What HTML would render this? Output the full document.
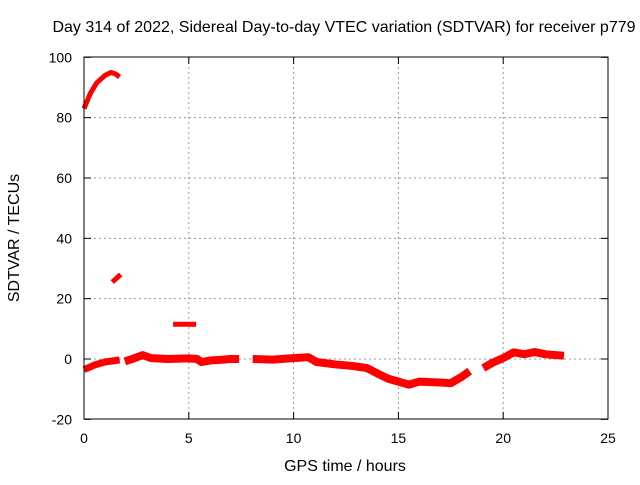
<!DOCTYPE html>
<html><head><meta charset="utf-8"><style>
body{margin:0;background:#fff}
svg text{font-family:"Liberation Sans",sans-serif;font-size:14px;fill:#000}
svg text.big{font-size:16px}
</style></head><body>
<svg id="c" width="640" height="480">
<rect width="640" height="480" fill="#fff"/>
<text class="big" x="344" y="32" text-anchor="middle">Day 314 of 2022, Sidereal Day-to-day VTEC variation (SDTVAR) for receiver p779</text>
<text class="big" x="345" y="471" text-anchor="middle">GPS time / hours</text>
<text class="big" transform="translate(19,238) rotate(-90)" text-anchor="middle">SDTVAR / TECUs</text>
<g id="grid"></g><g id="ticks"></g><g id="series"></g>
<rect x="84" y="57" width="524" height="362" fill="none" stroke="#000"/>
</svg>
<script>
const xTicks=[0,5,10,15,20,25];
const yTicks=[-20,0,20,40,60,80,100];
const segRise=[[0,83],[0.15,85.5],[0.3,88],[0.6,91.5],[1.0,94],[1.3,95],[1.5,94.5],[1.7,93.5]];
const segMid=[[1.35,25.5],[1.75,28]];
const segPlateau=[[4.25,11.5],[5.35,11.5]];
const segA=[[0,-3.5],[0.5,-2],[1,-1],[1.7,-0.3]];
const segB=[[1.95,-0.8],[2.3,0],[2.8,1.3],[3.2,0.3],[4,0],[5,0.2],[5.4,0],[5.6,-1],[6,-0.5],[6.5,-0.3],[7,0],[7.4,0]];
const segC=[[8.05,0],[9,-0.2],[10,0.3],[10.7,0.6],[11.1,-1],[12,-1.8],[12.8,-2.3],[13.5,-3],[14,-4.8],[14.5,-6.5],[15,-7.5],[15.5,-8.5],[16,-7.5],[17,-7.8],[17.5,-8],[18,-6],[18.4,-4]];
const segD=[[19.05,-3],[19.5,-1.2],[20,0.3],[20.5,2.2],[21,1.6],[21.5,2.3],[22,1.6],[22.5,1.3],[22.9,1.1]];
const X=v=>84+v*524/25, Y=v=>359-v*362/120;
const NS='http://www.w3.org/2000/svg';
const g=document.getElementById('grid'),t=document.getElementById('ticks'),s=document.getElementById('series');
function mk(tag,a,p){const e=document.createElementNS(NS,tag);for(const k in a)e.setAttribute(k,a[k]);p.appendChild(e);return e;}
xTicks.forEach(v=>{
 if(v>0&&v<25){const l=mk('line',{x1:X(v),x2:X(v),y1:57,y2:419,stroke:'#999','stroke-dasharray':'2,3'},g);
 
 }
 mk('line',{x1:X(v),x2:X(v),y1:419,y2:412,stroke:'#000'},t);mk('line',{x1:X(v),x2:X(v),y1:57,y2:64,stroke:'#000'},t);
 const tx=mk('text',{x:X(v),y:443,'text-anchor':'middle'},t);tx.textContent=v;
 
 
});
yTicks.forEach(v=>{
 if(v>-20&&v<100){const l=mk('line',{x1:84,x2:608,y1:Y(v),y2:Y(v),stroke:'#999','stroke-dasharray':'2,3'},g);
 
 }
 mk('line',{x1:84,x2:91,y1:Y(v),y2:Y(v),stroke:'#000'},t);mk('line',{x1:608,x2:601,y1:Y(v),y2:Y(v),stroke:'#000'},t);
 const tx=mk('text',{x:72,y:Y(v)+5,'text-anchor':'end'},t);tx.textContent=v;
 
 
});
function draw(seg,w,name){
 const p=mk('polyline',{points:seg.map(d=>X(d[0])+','+Y(d[1])).join(' '),fill:'none',stroke:'#f00','stroke-width':w,'stroke-linejoin':'round','stroke-linecap':'butt'},s);
 
 
}
draw(segRise,5,'series-rise');draw(segMid,5,'series-mid');draw(segPlateau,5,'series-plateau');
draw(segA,7,'series-segment-a');draw(segB,8,'series-segment-b');draw(segC,8,'series-segment-c');draw(segD,8,'series-segment-d');
</script>
</body></html>
